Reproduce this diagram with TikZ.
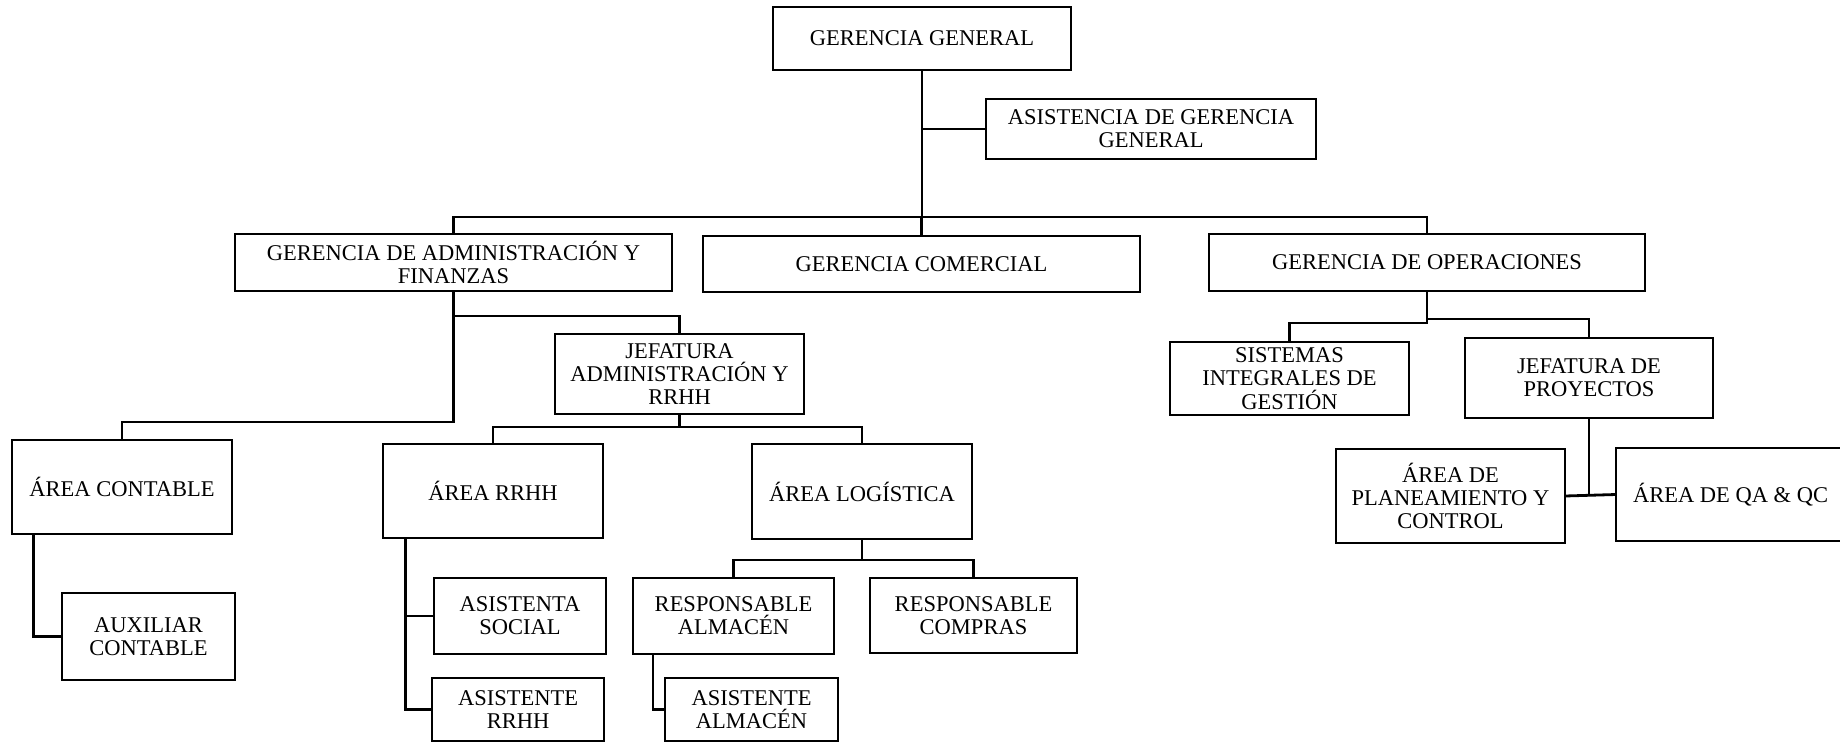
\documentclass[tikz,border=0pt]{standalone}
\usepackage{fontspec}
\setmainfont{Liberation Serif}
\usetikzlibrary{calc}

% One unit is one pixel of the 1840 x 743 sheet; y grows downwards.
\newcommand{\orgbox}[6]{%
  \node[orgbox,
        minimum width={(#4-#2)*0.5pt},
        minimum height={(#5-#3)*0.5pt}]
    (#1) at ({(#2+#4)/2},{(#3+#5)/2}) {#6};}

\begin{document}
\begin{tikzpicture}[
    x=0.5pt, y=-0.5pt,
    orgbox/.style={draw=black, line width=1.4pt, fill=white, align=center,
                   inner sep=0pt, outer sep=0pt,
                   font=\fontsize{11.25}{11.6}\selectfont},
    conn/.style={draw=black, line width=1.4pt, line join=miter}
  ]
  \useasboundingbox[fill=white] (0,0) rectangle (1840,743);

  % ---- boxes ----
  \orgbox{gg}{773}{7}{1071}{70}{GERENCIA GENERAL}
  \orgbox{agg}{986}{99}{1316}{159}{ASISTENCIA DE GERENCIA\\GENERAL}
  \orgbox{gaf}{235}{234}{672}{291}{GERENCIA DE ADMINISTRACIÓN Y\\FINANZAS}
  \orgbox{gc}{703}{236}{1140}{292}{GERENCIA COMERCIAL}
  \orgbox{gop}{1209}{234}{1645}{291}{GERENCIA DE OPERACIONES}
  \orgbox{jar}{555}{334}{804}{414}{JEFATURA\\ADMINISTRACIÓN Y\\RRHH}
  \orgbox{acont}{12}{440}{232}{534}{ÁREA CONTABLE}
  \orgbox{auxc}{62}{593}{235}{680}{AUXILIAR\\CONTABLE}
  \orgbox{arrhh}{383}{444}{603}{538}{ÁREA RRHH}
  \orgbox{alog}{752}{444}{972}{539}{ÁREA LOGÍSTICA}
  \orgbox{ras}{434}{578}{606}{654}{ASISTENTA\\SOCIAL}
  \orgbox{asrh}{432}{678}{604}{741}{ASISTENTE\\RRHH}
  \orgbox{ralm}{633}{578}{834}{654}{RESPONSABLE\\ALMACÉN}
  \orgbox{rcom}{870}{578}{1077}{653}{RESPONSABLE\\COMPRAS}
  \orgbox{asalm}{665}{678}{838}{741}{ASISTENTE\\ALMACÉN}
  \orgbox{sig}{1170}{342}{1409}{415}{SISTEMAS\\INTEGRALES DE\\GESTIÓN}
  \orgbox{jp}{1465}{338}{1713}{418}{JEFATURA DE\\PROYECTOS}
  \orgbox{apc}{1336}{449}{1565}{543}{ÁREA DE\\PLANEAMIENTO Y\\CONTROL}
  \orgbox{aqa}{1616}{448}{1845}{541}{ÁREA DE QA \& QC}

  % ---- levels of the horizontal buses ----
  \coordinate (busTop) at (0,217);
  \coordinate (busJar) at (0,316);
  \coordinate (busCont) at (0,422);
  \coordinate (busAreas) at (0,427);
  \coordinate (busLog) at (0,560);
  \coordinate (busSig) at (0,323);
  \coordinate (busJp) at (0,319);

  % ---- connectors ----
  \draw[conn] (gg.south) -- (gg.south |- busTop);
  \draw[conn] (gg.south |- agg.west) -- (agg.west);
  \draw[conn] (gaf.north) |- (gop.north |- busTop) -- (gop.north);
  \draw[conn] (gc.north) -- (gc.north |- busTop);

  \draw[conn] (gaf.south) -- (gaf.south |- busCont) -| (acont.north);
  \draw[conn] (gaf.south |- busJar) -| (jar.north);

  \draw[conn] (jar.south) -- (jar.south |- busAreas);
  \draw[conn] (arrhh.north) |- (alog.north |- busAreas) -- (alog.north);

  \path (acont.south west) ++(21.5,0) coordinate (contV);
  \draw[conn] (contV) |- (auxc.west);

  \path (arrhh.south west) ++(22.5,0) coordinate (rrhhV);
  \draw[conn] (rrhhV) |- (asrh.west);
  \draw[conn] (rrhhV |- ras.west) -- (ras.west);

  \draw[conn] (alog.south) -- (alog.south |- busLog);
  \draw[conn] (ralm.north) |- (rcom.north |- busLog) -- (rcom.north);

  \path (ralm.south west) ++(20,0) coordinate (almV);
  \draw[conn] (almV) |- (asalm.west);

  \draw[conn] (gop.south) -- (gop.south |- busSig) -| (sig.north);
  \draw[conn] (gop.south |- busJp) -| (jp.north);

  \draw[conn] (jp.south) -- (jp.south |- apc.east);
  \draw[conn] (apc.east) -- (aqa.west);
\end{tikzpicture}
\end{document}
